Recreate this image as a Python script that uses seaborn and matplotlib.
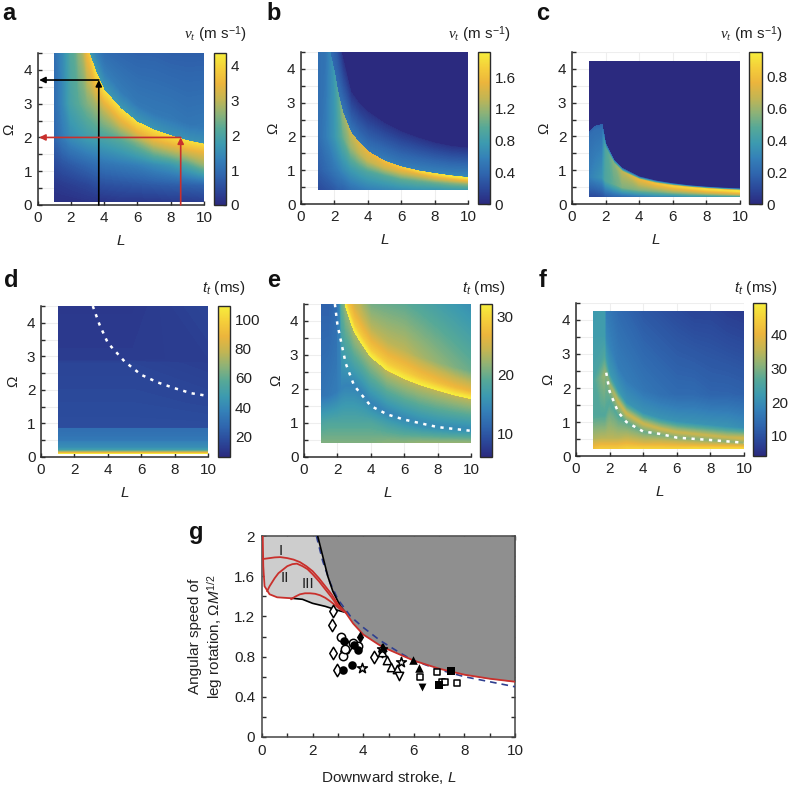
import matplotlib
matplotlib.use('Agg')
import matplotlib.pyplot as plt
import seaborn as sns
from matplotlib.cm import ScalarMappable
from matplotlib.colors import Normalize
from matplotlib.patches import Rectangle
from matplotlib.ticker import MultipleLocator, FixedLocator, FormatStrFormatter

sns.set_style('ticks')
plt.rcParams['font.family'] = ['Liberation Sans', 'DejaVu Sans']
plt.rcParams['mathtext.fontset'] = 'custom'
plt.rcParams['mathtext.rm'] = 'Liberation Sans'
plt.rcParams['mathtext.sf'] = 'Liberation Sans:italic'
plt.rcParams['mathtext.it'] = 'Liberation Serif:italic'

W, H = 788, 785
dark = '#2b2b2b'
red = '#c9302c'
parula = ['#2b2a7f', '#2b489a', '#2f66ae', '#3480b8', '#3c9ab0', '#55a898', '#8db277', '#c4b552', '#ecb53c', '#f5cf3a', '#f6ee3c']
cmap = sns.blend_palette(parula, n_colors=256, as_cmap=True)

# panel a, v_t
a_L = [1, 1.5, 2, 2.5, 3, 3.5, 4, 5, 6, 7, 8, 9, 10]
a_omega = [
    [.1] * 13,
    [.6] * 13,
    [1.2] * 13,
    [2, 2, 2, 2, 2, 2, 2, 1.95, 1.85, 1.7, 1.6, 1.5, 1.45],
    [3, 3, 3, 3, 3, 3, 2.8, 2.4, 2.15, 1.95, 1.85, 1.7, 1.62],
    [8, 7, 6, 5.4, 4.65, 3.95, 3.4, 2.85, 2.45, 2.22, 2.05, 1.9, 1.8],
    [8.01, 7.01, 6.01, 5.41, 4.66, 3.96, 3.41, 2.86, 2.46, 2.23, 2.06, 1.91, 1.81],
    [8.5, 7.5, 6.5, 5.9, 5.1, 4.45, 3.9, 3.35, 2.95, 2.7, 2.55, 2.4, 2.3],
    [10, 10, 10, 10, 10, 5, 4.6, 4.6, 4.6, 4.6, 4.6, 4.6, 4.6],
]
a_values = [
    [.1, .1, .1, .12, .15, .15, .15, .2, .2, .2, .25, .25, .3],
    [.2, .25, .3, .35, .4, .5, .55, .6, .65, .7, .75, .8, .85],
    [.45, .6, .7, .8, .9, 1, 1.1, 1.2, 1.3, 1.5, 1.7, 2.1, 2.7],
    [.85, 1.2, 1.5, 1.65, 1.8, 1.9, 2, 2.2, 2.5, 2.8, 2.9, 3, 3.2],
    [.95, 1.4, 1.95, 2.2, 2.5, 2.8, 3, 3.2, 3.4, 3.5, 3.6, 3.6, 3.6],
    [1, 1.5, 2.3, 2.9, 3.7, 4.1, 4.1, 4.1, 4.1, 4.1, 4.1, 4.1, 4.1],
    [1, 1.5, 2.3, 2.9, 1.8, 1.75, 1.7, 1.7, 1.7, 1.65, 1.6, 1.6, 1.6],
    [1, 1.5, 2.3, 2.9, 1.4, 1.35, 1.3, 1.25, 1.2, 1.2, 1.2, 1.15, 1.2],
    [1, 1.5, 2.3, 2.9, 1.2, 1.05, .95, .85, .8, .8, .75, .75, .75],
]

# panel b, v_t
b_L = [1, 1.5, 2, 2.25, 2.5, 3, 3.5, 4, 5, 6, 7, 8, 9, 10]
b_omega = [
    [.42] * 14,
    [1, 1, 1, 1, 1, 1, 1, .95, .85, .75, .7, .65, .62, .6],
    [2, 2, 2, 2, 2, 1.7, 1.5, 1.3, 1.1, .98, .9, .8, .74, .7],
    [5.5, 5, 3.9, 3.2, 2.7, 2.1, 1.8, 1.55, 1.27, 1.1, .98, .9, .83, .78],
    [5.51, 5.01, 3.91, 3.21, 2.71, 2.11, 1.81, 1.56, 1.28, 1.11, .99, .91, .84, .79],
    [6, 5.5, 5, 4.8, 4.3, 3.3, 2.95, 2.72, 2.38, 2.13, 1.95, 1.8, 1.7, 1.65],
    [6.01, 5.51, 5.01, 4.81, 4.31, 3.31, 2.96, 2.73, 2.39, 2.14, 1.96, 1.81, 1.71, 1.66],
    [7] * 14,
]
b_values = [
    [.2, .25, .3, .35, .35, .45, .5, .55, .6, .65, .7, .7, .75, .75],
    [.32, .4, .5, .55, .62, .75, .85, .9, .95, 1, 1.03, 1.05, 1.1, 1.15],
    [.42, .55, .72, .85, 1, 1.2, 1.3, 1.35, 1.4, 1.45, 1.48, 1.5, 1.5, 1.55],
    [.45, .48, .75, .95, 1.15, 1.35, 1.45, 1.5, 1.58, 1.65, 1.75, 1.8, 1.85, 1.88],
    [.45, .48, .4, .45, .5, .5, .5, .5, .55, .55, .58, .6, .62, .65],
    [.45, .45, .3, .15, .06, .06, .06, .06, .06, .06, .06, .06, .06, .06],
    [.45, .45, .3, 0, 0, 0, 0, 0, 0, 0, 0, 0, 0, 0],
    [.45, .45, .3, 0, 0, 0, 0, 0, 0, 0, 0, 0, 0, 0],
]

# panel c, v_t
c_L = [1, 1.4, 1.8, 2, 2.5, 3, 4, 5, 6, 7, 8, 9, 10]
c_omega = [
    [.22] * 13,
    [.8, .8, .8, .7, .6, .5, .42, .38, .35, .33, .32, .3, .28],
    [2, 2.2, 2.25, 1.65, 1.2, .95, .72, .6, .53, .48, .44, .41, .38],
    [2.1, 2.3, 2.35, 1.8, 1.3, 1.05, .8, .68, .6, .54, .5, .47, .45],
    [2.11, 2.31, 2.36, 1.81, 1.31, 1.06, .81, .69, .61, .55, .51, .48, .46],
    [4.25] * 13,
]
c_values = [
    [.1, .1, .12, .15, .18, .2, .25, .3, .3, .35, .35, .38, .4],
    [.28, .32, .36, .45, .5, .55, .55, .55, .58, .6, .65, .65, .65],
    [.22, .22, .22, .45, .55, .65, .75, .8, .85, .87, .9, .9, .92],
    [.18, .18, .18, .15, .15, .12, .1, .1, .1, .1, .1, .1, .1],
    [0] * 13,
    [0] * 13,
]

# panel d, t_t
d_L = [1, 5.5, 10]
d_omega = [[.1] * 3, [.13] * 3, [.17] * 3, [.22] * 3, [.3] * 3, [.45] * 3, [.5] * 3, [.85] * 3,
           [.88] * 3, [1.6] * 3, [2.8] * 3, [2.9] * 3, [4.5] * 3]
d_values = [[108] * 3, [90] * 3, [70] * 3, [50] * 3, [42] * 3, [38] * 3, [34] * 3, [30] * 3,
            [18, 18, 18], [17, 17, 16], [15, 15, 13], [12, 12, 13], [11, 11, 15]]

# panel e, t_t
e_L = [1, 1.5, 2, 2.25, 2.5, 3, 3.5, 4, 5, 6, 7, 8, 9, 10]
e_omega = [
    [.42] * 14,
    [1, 1, 1, 1, 1, 1, 1, 1, 1, .95, .88, .82, .78, .75],
    [1.8, 1.8, 1.9, 2, 2.1, 2.1, 1.9, 1.6, 1.3, 1.15, 1.05, .95, .9, .85],
    [6.49, 6.19, 5.79, 5.19, 4.39, 3.69, 3.29, 2.94, 2.54, 2.3, 2.11, 1.96, 1.82, 1.71],
    [6.5, 6.2, 5.8, 5.2, 4.4, 3.7, 3.3, 2.95, 2.55, 2.31, 2.12, 1.97, 1.83, 1.72],
    [6.7, 6.4, 6, 5.4, 4.6, 3.9, 3.5, 3.15, 2.75, 2.51, 2.32, 2.17, 2.03, 1.92],
    [7.3, 7, 6.6, 6, 5.2, 4.5, 4.1, 3.75, 3.35, 3.11, 2.92, 2.77, 2.63, 2.52],
    [9, 9, 9, 9, 9, 6, 5, 4.6, 4.6, 4.6, 4.6, 4.6, 4.6, 4.6],
]
e_values = [
    [21, 21, 21, 21, 21, 21, 21, 21, 21.5, 21.5, 22, 22, 22, 22],
    [18, 18.5, 18.5, 18.5, 18.5, 18.5, 18.5, 18.5, 17, 16, 15.5, 15.5, 15.5, 15.5],
    [12.5, 13, 13.5, 14, 14, 14, 14, 14, 14, 14.5, 15, 15, 15, 15],
    [9.5, 9.2, 11, 21, 22, 23, 23, 23, 24, 24, 24, 24, 24, 24],
    [9.5, 9.2, 11, 32, 32, 32, 32, 32, 32, 32, 32, 32, 32, 32],
    [9.5, 9.2, 11, 29, 29, 29, 29, 29, 29, 29, 28.5, 28, 27.5, 27],
    [9.5, 9.2, 11, 26, 26, 25, 24.5, 24, 24, 24, 23, 22, 21, 20],
    [9.5, 9.2, 11, 20, 20, 21, 20.5, 20, 19.5, 19, 18, 17, 16, 15],
]

# panel f, t_t
f_L = [1, 1.5, 1.7, 1.75, 2, 2.5, 3, 4, 5, 6, 7, 8, 9, 10]
f_omega = [
    [.22] * 14,
    [.5, .5, .5, .5, .5, .5, .5, .4, .38, .36, .34, .33, .32, .31],
    [1.2, 1.2, 1.2, 1.2, 1.6, 1.2, 1, .72, .62, .54, .5, .46, .42, .39],
    [2.2, 2.3, 2.4, 2.5, 2.1, 1.6, 1.25, .95, .8, .7, .65, .6, .55, .52],
    [2.7, 2.8, 2.9, 2.9, 2.4, 1.9, 1.55, 1.25, 1.1, 1, .95, .9, .85, .82],
    [3.5, 3.5, 3.5, 3.5, 3.2, 2.6, 2.2, 1.9, 1.8, 1.8, 1.8, 1.8, 1.8, 1.8],
    [4.25] * 14,
]
f_values = [
    [42, 44, 44, 44, 44, 44, 45, 45, 45, 45, 46, 46, 46, 46],
    [34, 35, 35, 35, 35, 35, 36, 37, 38, 38, 38, 38, 38, 38],
    [26, 26, 26, 26, 26, 26, 27, 28, 29, 30, 30, 30, 30, 31],
    [25, 30, 32, 30, 32, 35, 36, 36, 36, 36, 36, 36, 36, 37],
    [24, 25, 26, 23, 22, 22, 21, 21, 21, 21, 21, 21, 21, 20],
    [23, 23, 23, 19, 18, 17, 17, 16, 15, 14, 14, 13, 13, 12.5],
    [22, 23, 23, 17, 16, 14, 13, 11, 10, 9, 8, 8, 7, 6.5],
]

# white dotted curves
d_curve_L = [3.1, 3.5, 4, 5, 6, 7, 8, 9, 10]
d_curve_O = [4.5, 3.95, 3.4, 2.85, 2.45, 2.22, 2.05, 1.9, 1.82]
e_curve_L = [1.85, 2, 2.5, 3, 4, 5, 6, 8, 10]
e_curve_O = [4.5, 3.9, 2.75, 2.1, 1.5, 1.25, 1.1, .88, .77]
f_curve_L = [1.8, 2, 2.5, 3, 4, 5, 6, 8, 10]
f_curve_O = [2.45, 1.9, 1.3, 1, .72, .65, .54, .47, .39]

# panel g curves
light_L = [.03, .05, .1, .3, .6, 1.2, 1.6, 2, 2.5, 3, 3.3, 3.6, 4, 4.67, 5, 6, 7, 8, 9, 10]
light_O = [2, 1.7, 1.5, 1.42, 1.39, 1.38, 1.37, 1.33, 1.3, 1.26, 1.24, 1.13, 1.02, .91, .87, .76, .68, .62, .58, .55]
dark_L = [2.2, 2.4, 2.6, 2.8, 3.1, 3.3, 3.6, 4, 4.67, 5, 6, 7, 8, 9, 10]
dark_O = [2, 1.8, 1.6, 1.45, 1.3, 1.24, 1.13, 1.02, .91, .87, .76, .68, .62, .58, .55]
red_low_L = [.03, .05, .1, .3, .6, 1.2]
red_low_O = [2, 1.7, 1.5, 1.42, 1.39, 1.38]
black_low_L = [1.2, 1.6, 2, 2.5, 3, 3.3]
black_low_O = [1.38, 1.37, 1.33, 1.3, 1.26, 1.24]
red_env_L = [3.3, 3.6, 4, 4.67, 5, 6, 7, 8, 9, 10]
red_env_O = [1.24, 1.13, 1.02, .91, .87, .76, .68, .62, .58, .55]
black_edge_L = [2.2, 2.4, 2.6, 2.8, 3.1, 3.3]
black_edge_O = [2, 1.8, 1.6, 1.45, 1.3, 1.24]
blue_L = [2.15, 2.4, 2.7, 3, 3.5, 4, 4.67, 5.5, 6, 7, 8, 9, 10]
blue_O = [2, 1.75, 1.53, 1.37, 1.2, 1.09, .96, .83, .76, .67, .6, .55, .5]
curve_I_L = [0, .15, .3, .5, .72, 1, 1.25, 1.5, 1.75, 2, 2.25, 2.5, 2.75, 3, 3.3]
curve_I_O = [1.77, 1.775, 1.78, 1.787, 1.79, 1.78, 1.765, 1.74, 1.7, 1.65, 1.58, 1.5, 1.42, 1.32, 1.24]
curve_II_L = [.2, .3, .4, .5, .65, .8, 1, 1.2, 1.38, 1.6, 1.8, 2, 2.25, 2.5, 2.75, 3, 3.3]
curve_II_O = [1.45, 1.5, 1.54, 1.58, 1.63, 1.66, 1.7, 1.72, 1.725, 1.7, 1.67, 1.62, 1.55, 1.47, 1.39, 1.3, 1.24]
curve_III_L = [1.15, 1.3, 1.5, 1.7, 1.9, 2.1, 2.3, 2.5, 2.7, 2.9, 3.1, 3.3]
curve_III_O = [1.37, 1.395, 1.42, 1.43, 1.43, 1.425, 1.41, 1.385, 1.35, 1.31, 1.27, 1.24]

# panel g markers
open_diamond_L = [2.8, 2.78, 2.82, 2.96, 4.43, 4.74, 3.25, 3.4]
open_diamond_O = [1.25, 1.11, .84, .67, .8, .86, .86, .9]
open_circle_L = [3.12, 3.58, 3.22, 3.8, 3.3]
open_circle_O = [1, .94, .81, .91, .88]
filled_circle_L = [3.25, 3.62, 3.78, 3.2, 3.57]
filled_circle_O = [.96, .92, .87, .67, .72]
filled_diamond_L = [3.88]
filled_diamond_O = [1]
open_up_L = [4.74, 4.96, 5.09, 5.33]
open_up_O = [.85, .77, .7, .68]
open_down_L = [5.42]
open_down_O = [.61]
star_L = [3.95, 5.5, 4.74]
star_O = [.69, .75, .88]
filled_up_L = [4.78, 5.95, 6.2]
filled_up_O = [.9, .77, .69]
filled_down_L = [6.32]
filled_down_O = [.5]
open_square_L = [6.25, 6.9, 7.1, 7.25, 7.7]
open_square_O = [.6, .645, .55, .55, .54]
filled_square_L = [7.47, 6.98]
filled_square_O = [.66, .52]


def px_axes(fig, x0, y0, x1, y1):
    return fig.add_axes([x0 / W, 1 - y1 / H, (x1 - x0) / W, (y1 - y0) / H])


def field_panel(fig, box, cbox, L, omega, values, bottom, top, vmin, vmax, cmajor, cminor):
    ax = px_axes(fig, *box)
    cax = px_axes(fig, *cbox)
    norm = Normalize(vmin, vmax)
    X = [L] * len(omega)
    levels = [vmin + (vmax - vmin) * i / 160 for i in range(161)]
    cs = ax.contourf(X, omega, values, levels=levels, cmap=cmap, norm=norm, extend='both')
    cs.set_clip_path(Rectangle((1, bottom), 9, top - bottom, transform=ax.transData))
    ax.set_xlim(0, 10)
    ax.set_ylim(0, 4.5)
    ax.xaxis.set_major_locator(MultipleLocator(2))
    ax.yaxis.set_major_locator(FixedLocator([0, 1, 2, 3, 4]))
    ax.yaxis.set_minor_locator(MultipleLocator(.5))
    ax.grid(True, which='both', color='#eeeeee', lw=.8, zorder=0)
    ax.set_axisbelow(True)
    ax.tick_params(which='both', direction='in', length=3, width=1, color=dark, labelsize=11, labelcolor='#222222', pad=4)
    sns.despine(ax=ax)
    for s in ['left', 'bottom']:
        ax.spines[s].set_linewidth(1.1)
        ax.spines[s].set_color(dark)
    ax.set_xlabel('L', style='italic', fontsize=11, labelpad=7, color='#222222')
    ax.set_ylabel('Ω', fontsize=11, labelpad=5, color='#222222')

    cb = fig.colorbar(ScalarMappable(norm=norm, cmap=cmap), cax=cax)
    cb.ax.yaxis.set_major_locator(MultipleLocator(cmajor))
    cb.ax.yaxis.set_minor_locator(MultipleLocator(cminor))
    cb.ax.yaxis.set_major_formatter(FormatStrFormatter('%g'))
    cb.ax.tick_params(which='both', direction='in', length=2.5, width=.9, color=dark, labelsize=11, labelcolor='#222222', pad=3.5)
    cb.outline.set_edgecolor(dark)
    cb.outline.set_linewidth(1)
    return ax


fig = plt.figure(figsize=(W / 100, H / 100), dpi=100)

ax_a = field_panel(fig, (37.5, 53, 204, 205), (214, 53, 226, 205), a_L, a_omega, a_values, .1, 4.5, 0, 4.37, 1, .5)
ax_b = field_panel(fig, (301, 52, 468, 204), (478, 52, 490, 204), b_L, b_omega, b_values, .42, 4.5, 0, 1.915, .4, .2)
ax_c = field_panel(fig, (572, 52, 740, 204), (749, 52, 762, 204), c_L, c_omega, c_values, .22, 4.23, 0, .957, .2, .1)
ax_d = field_panel(fig, (41, 306, 208, 457), (218, 306, 230, 457), d_L, d_omega, d_values, .1, 4.5, 6, 109, 20, 10)
ax_e = field_panel(fig, (304, 304, 471, 457), (480, 304, 492, 457), e_L, e_omega, e_values, .42, 4.5, 5.9, 32.2, 10, 5)
ax_f = field_panel(fig, (576, 303, 744, 456), (753, 303, 766, 456), f_L, f_omega, f_values, .22, 4.25, 4, 49.5, 10, 5)

for ax, cx, cy in [(ax_d, d_curve_L, d_curve_O), (ax_e, e_curve_L, e_curve_O), (ax_f, f_curve_L, f_curve_O)]:
    sns.lineplot(x=cx, y=cy, ax=ax, color='white', lw=1.8, linestyle=(0, (1.3, 2.2)), errorbar=None, legend=False)
    ax.set_xlabel('L', style='italic', fontsize=11, labelpad=7, color='#222222')
    ax.set_ylabel('Ω', fontsize=11, labelpad=5, color='#222222')

# arrows in panel a
for x_end, y_end, col in [(3.68, 3.7, 'black'), (8.6, 2, red)]:
    ax_a.annotate('', xy=(x_end, y_end), xytext=(x_end, 0),
                  arrowprops=dict(arrowstyle='-|>', color=col, lw=1.2, mutation_scale=9, shrinkA=0, shrinkB=0))
    ax_a.annotate('', xy=(.1, y_end), xytext=(x_end, y_end),
                  arrowprops=dict(arrowstyle='-|>', color=col, lw=1.2, mutation_scale=9, shrinkA=0, shrinkB=0))

# panel g
ax_g = px_axes(fig, 262, 536, 515, 737)
ax_g.fill_between(light_L, light_O, 2, color='#cdcdcd', lw=0, zorder=1)
ax_g.fill_between(dark_L, dark_O, 2, color='#8f8f8f', lw=0, zorder=1.1)
line_style = dict(ax=ax_g, errorbar=None, legend=False, zorder=3)
sns.lineplot(x=blue_L, y=blue_O, color='#2f3f8f', lw=1.2, linestyle=(0, (4, 3)), **line_style)
sns.lineplot(x=black_edge_L, y=black_edge_O, color='black', lw=1.2, **line_style)
sns.lineplot(x=black_low_L, y=black_low_O, color='black', lw=1.2, **line_style)
for cx, cy in [(red_low_L, red_low_O), (red_env_L, red_env_O), (curve_I_L, curve_I_O),
               (curve_II_L, curve_II_O), (curve_III_L, curve_III_O)]:
    sns.lineplot(x=cx, y=cy, color=red, lw=1.3, **line_style)

open_sets = [(open_diamond_L, open_diamond_O, 'd', 40), (open_circle_L, open_circle_O, 'o', 36),
             (open_up_L, open_up_O, '^', 36), (open_down_L, open_down_O, 'v', 36),
             (star_L, star_O, '*', 55), (open_square_L, open_square_O, 's', 20)]
for mx, my, m, size in open_sets:
    sns.scatterplot(x=mx, y=my, ax=ax_g, marker=m, s=size, facecolor='white', edgecolor='black', linewidth=1.1, zorder=4, legend=False)
filled_sets = [(filled_circle_L, filled_circle_O, 'o', 38), (filled_diamond_L, filled_diamond_O, 'd', 38),
               (filled_up_L, filled_up_O, '^', 38), (filled_down_L, filled_down_O, 'v', 32),
               (filled_square_L, filled_square_O, 's', 26)]
for mx, my, m, size in filled_sets:
    sns.scatterplot(x=mx, y=my, ax=ax_g, marker=m, s=size, color='black', linewidth=0, zorder=5, legend=False)

ax_g.text(.75, 1.85, 'I', ha='center', va='center', fontsize=11, color='#222222', zorder=6)
ax_g.text(.9, 1.585, 'II', ha='center', va='center', fontsize=11, color='#222222', zorder=6)
ax_g.text(1.8, 1.52, 'III', ha='center', va='center', fontsize=11, color='#222222', zorder=6)

ax_g.set_xlim(0, 10)
ax_g.set_ylim(0, 2)
ax_g.xaxis.set_major_locator(MultipleLocator(2))
ax_g.xaxis.set_minor_locator(MultipleLocator(1))
ax_g.set_yticks([0, .4, .8, 1.2, 1.6, 2])
ax_g.set_yticklabels(['0', '0.4', '0.8', '1.2', '1.6', '2'])
ax_g.yaxis.set_minor_locator(MultipleLocator(.2))
ax_g.tick_params(which='both', direction='in', length=3, width=1, color=dark, labelsize=11, labelcolor='#222222', pad=5, top=True, right=True)
for s in ax_g.spines.values():
    s.set_linewidth(1.1)
    s.set_color('#444444')
ax_g.set_xlabel(r'Downward stroke, $\mathsf{L}$', fontsize=11, labelpad=8, color='#222222')
ax_g.set_ylabel('Angular speed of\n' + r'leg rotation, Ω$\mathsf{M}^{\mathrm{1/2}}$', fontsize=11, labelpad=6, color='#222222')

# colourbar titles
for x, y, label in [(247, 35, r'$v_t$ (m s$^{-1}$)'), (511, 35, r'$v_t$ (m s$^{-1}$)'), (783, 35, r'$v_t$ (m s$^{-1}$)'),
                    (246, 288, r'$\mathsf{t_t}$ (ms)'), (506, 288, r'$\mathsf{t_t}$ (ms)'), (778, 288, r'$\mathsf{t_t}$ (ms)')]:
    fig.text(x / W, 1 - y / H, label, ha='right', va='center', fontsize=11, color='#222222')

# panel letters
for x, y, letter in [(2, 13, 'a'), (266, 13, 'b'), (536, 13, 'c'), (4, 281, 'd'), (267, 281, 'e'), (539, 281, 'f'), (189, 532, 'g')]:
    fig.text(x / W, 1 - y / H, letter, ha='left', va='center', fontsize=17, fontweight='bold', color='#111111')

plt.savefig('out.png', dpi=100)
plt.close()
